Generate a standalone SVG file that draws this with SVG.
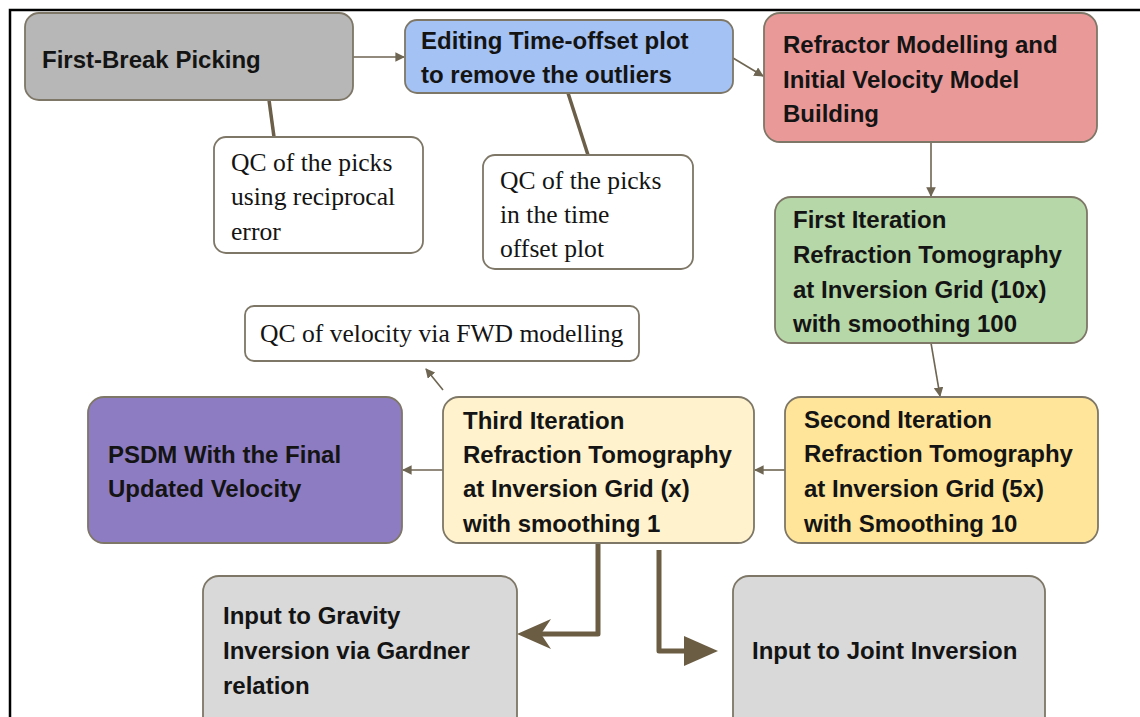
<svg xmlns="http://www.w3.org/2000/svg" width="1140" height="717" viewBox="0 0 1140 717">
  <defs>
    <style>
      .box { stroke: #7e7767; stroke-width: 1.8; }
      .note { fill: #ffffff; stroke: #7e7767; stroke-width: 1.8; }
      .lbl { font-family: "Liberation Sans", Arial, sans-serif; font-weight: bold; font-size: 24px; fill: #141414; }
      .qc { font-family: "Liberation Serif", "Times New Roman", serif; font-size: 25.6px; fill: #141414; }
      .flow { fill: none; stroke: #6e6552; stroke-width: 1.6; }
      .tie { fill: none; stroke: #6b5f49; stroke-width: 3.5; }
      .heavy { fill: none; stroke: #6b5d43; stroke-width: 5; stroke-linejoin: round; }
    </style>
    <marker id="tri" viewBox="0 0 10 10" refX="9" refY="5" markerWidth="6" markerHeight="6" markerUnits="strokeWidth" orient="auto">
      <path d="M0,0 L10,5 L0,10 Z" fill="#6e6552"/>
    </marker>
  </defs>

  <rect width="1140" height="717" fill="#ffffff"/>
  <!-- frame -->
  <path d="M10,717 V10 H1140" fill="none" stroke="#000000" stroke-width="2.5"/>

  <!-- connectors -->
  <g id="connectors">
    <line class="flow" x1="353" y1="57" x2="404" y2="57" marker-end="url(#tri)"/>
    <line class="flow" x1="733" y1="58" x2="763" y2="76" marker-end="url(#tri)"/>
    <line class="flow" x1="931" y1="142" x2="931" y2="196" marker-end="url(#tri)"/>
    <line class="flow" x1="931" y1="343" x2="940" y2="396" marker-end="url(#tri)"/>
    <line class="flow" x1="785" y1="470" x2="755" y2="470" marker-end="url(#tri)"/>
    <line class="flow" x1="443" y1="470" x2="403" y2="470" marker-end="url(#tri)"/>
    <line class="flow" x1="443" y1="390" x2="426" y2="369" marker-end="url(#tri)"/>
    <line class="tie" x1="269" y1="100" x2="274" y2="137"/>
    <line class="tie" x1="568" y1="93" x2="588" y2="155"/>
    <!-- thick outputs to the inversions -->
    <path class="heavy" d="M598,543 V634 H540"/>
    <path d="M517,634 L551,619 L541,634 L551,649 Z" fill="#6b5d43"/>
    <path class="heavy" d="M659,550 V651 H686"/>
    <path d="M684,636 L718,651 L684,666 Z" fill="#6b5d43"/>
  </g>

  <g id="first-break-picking">
    <rect class="box" x="25" y="13" width="328" height="87" rx="14" fill="#b7b7b7"/>
    <text class="lbl" x="42" y="68">First-Break Picking</text>
  </g>

  <g id="editing-time-offset">
    <rect class="box" x="405" y="20" width="328" height="73" rx="12" fill="#a4c2f4"/>
    <text class="lbl" x="421" y="49">Editing Time-offset plot</text>
    <text class="lbl" x="421" y="83">to remove the outliers</text>
  </g>

  <g id="refractor-modelling">
    <rect class="box" x="764" y="13" width="333" height="129" rx="16" fill="#ea9999"/>
    <text class="lbl" x="783" y="53">Refractor Modelling and</text>
    <text class="lbl" x="783" y="88">Initial Velocity Model</text>
    <text class="lbl" x="783" y="122">Building</text>
  </g>

  <g id="qc-reciprocal">
    <rect class="note" x="214" y="137" width="209" height="116" rx="12"/>
    <text class="qc" x="231" y="171">QC of the picks</text>
    <text class="qc" x="231" y="205">using reciprocal</text>
    <text class="qc" x="231" y="240">error</text>
  </g>

  <g id="qc-time-offset">
    <rect class="note" x="483" y="155" width="210" height="114" rx="12"/>
    <text class="qc" x="500" y="189">QC of the picks</text>
    <text class="qc" x="500" y="223">in the time</text>
    <text class="qc" x="500" y="257">offset plot</text>
  </g>

  <g id="first-iteration">
    <rect class="box" x="775" y="197" width="312" height="146" rx="16" fill="#b6d7a8"/>
    <text class="lbl" x="793" y="228">First Iteration</text>
    <text class="lbl" x="793" y="263">Refraction Tomography</text>
    <text class="lbl" x="793" y="298">at Inversion Grid (10x)</text>
    <text class="lbl" x="793" y="332">with smoothing 100</text>
  </g>

  <g id="qc-fwd-modelling">
    <rect class="note" x="245" y="306" width="394" height="55" rx="9"/>
    <text class="qc" x="260" y="342">QC of velocity via FWD modelling</text>
  </g>

  <g id="psdm">
    <rect class="box" x="88" y="397" width="314" height="146" rx="16" fill="#8e7cc3"/>
    <text class="lbl" x="108" y="463">PSDM With the Final</text>
    <text class="lbl" x="108" y="497">Updated Velocity</text>
  </g>

  <g id="third-iteration">
    <rect class="box" x="443" y="397" width="311" height="146" rx="16" fill="#fff2cc"/>
    <text class="lbl" x="463" y="429">Third Iteration</text>
    <text class="lbl" x="463" y="463">Refraction Tomography</text>
    <text class="lbl" x="463" y="497">at Inversion Grid (x)</text>
    <text class="lbl" x="463" y="532">with smoothing 1</text>
  </g>

  <g id="second-iteration">
    <rect class="box" x="785" y="397" width="313" height="146" rx="16" fill="#ffe599"/>
    <text class="lbl" x="804" y="428">Second Iteration</text>
    <text class="lbl" x="804" y="462">Refraction Tomography</text>
    <text class="lbl" x="804" y="497">at Inversion Grid (5x)</text>
    <text class="lbl" x="804" y="532">with Smoothing 10</text>
  </g>

  <g id="gravity-input">
    <rect class="box" x="203" y="576" width="314" height="160" rx="16" fill="#d9d9d9"/>
    <text class="lbl" x="223" y="624">Input to Gravity</text>
    <text class="lbl" x="223" y="659">Inversion via Gardner</text>
    <text class="lbl" x="223" y="694">relation</text>
  </g>

  <g id="joint-inversion-input">
    <rect class="box" x="733" y="576" width="312" height="160" rx="16" fill="#d9d9d9"/>
    <text class="lbl" x="752" y="659">Input to Joint Inversion</text>
  </g>
</svg>
